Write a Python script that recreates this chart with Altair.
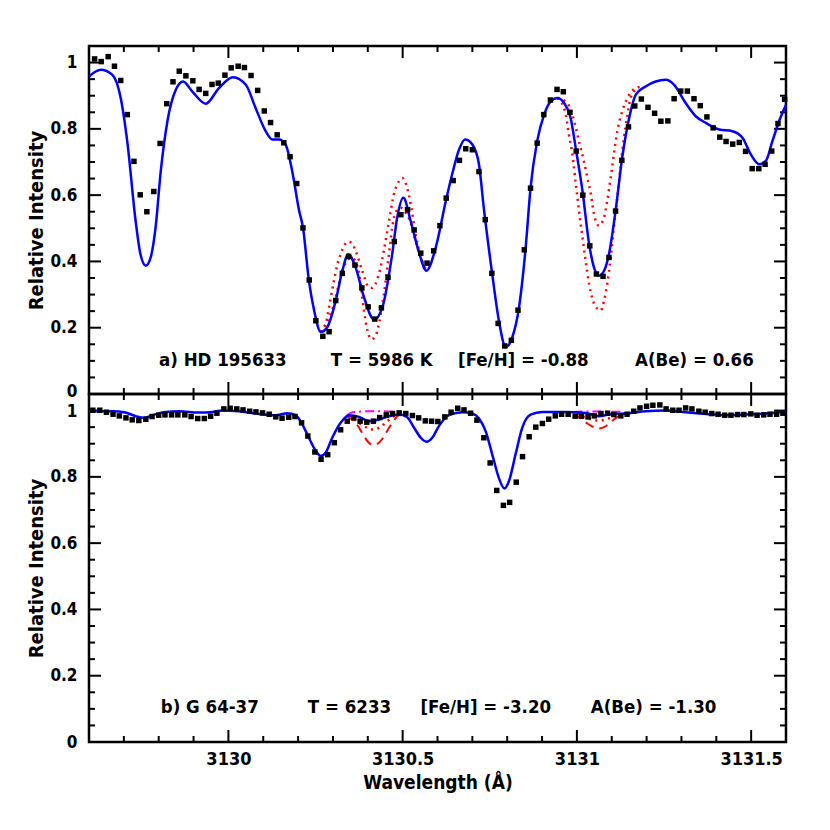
import altair as alt
import pandas as pd

# ---------------- data ----------------
# panel a) observed points
a_obs_x = [3129.616, 3129.635, 3129.655, 3129.673, 3129.691, 3129.710, 3129.729, 3129.747, 3129.766, 3129.786,
           3129.804, 3129.823, 3129.841, 3129.859, 3129.878, 3129.898, 3129.916, 3129.935, 3129.953, 3129.971,
           3129.990, 3130.008, 3130.028, 3130.046, 3130.065, 3130.084, 3130.103, 3130.121, 3130.140, 3130.159,
           3130.177, 3130.196, 3130.214, 3130.232, 3130.251, 3130.271, 3130.289, 3130.308, 3130.327, 3130.345,
           3130.363, 3130.383, 3130.401, 3130.420, 3130.439, 3130.458, 3130.476, 3130.495, 3130.514, 3130.533,
           3130.552, 3130.570, 3130.589, 3130.607, 3130.625, 3130.645, 3130.663, 3130.681, 3130.700, 3130.719,
           3130.737, 3130.756, 3130.774, 3130.793, 3130.812, 3130.831, 3130.849, 3130.867, 3130.886, 3130.905,
           3130.924, 3130.943, 3130.961, 3130.980, 3130.998, 3131.017, 3131.037, 3131.056, 3131.075, 3131.092,
           3131.111, 3131.129, 3131.148, 3131.166, 3131.185, 3131.204, 3131.223, 3131.241, 3131.261, 3131.279,
           3131.298, 3131.317, 3131.336, 3131.354, 3131.373, 3131.391, 3131.410, 3131.428, 3131.447, 3131.466,
           3131.484, 3131.503, 3131.522, 3131.540, 3131.559, 3131.577, 3131.596]
a_obs_y = [1.011, 1.003, 1.018, 0.989, 0.946, 0.843, 0.702, 0.601, 0.550, 0.611,
           0.756, 0.876, 0.942, 0.974, 0.960, 0.945, 0.919, 0.907, 0.934, 0.938,
           0.962, 0.984, 0.989, 0.985, 0.961, 0.916, 0.854, 0.819, 0.782, 0.758,
           0.716, 0.635, 0.501, 0.344, 0.221, 0.174, 0.188, 0.282, 0.364, 0.415,
           0.389, 0.320, 0.263, 0.226, 0.260, 0.352, 0.460, 0.541, 0.556, 0.495,
           0.425, 0.395, 0.432, 0.508, 0.591, 0.644, 0.705, 0.740, 0.737, 0.671,
           0.526, 0.364, 0.213, 0.145, 0.162, 0.253, 0.435, 0.621, 0.757, 0.843,
           0.887, 0.919, 0.912, 0.850, 0.733, 0.600, 0.447, 0.362, 0.355, 0.412,
           0.552, 0.705, 0.806, 0.869, 0.890, 0.865, 0.847, 0.823, 0.824, 0.891,
           0.914, 0.914, 0.891, 0.870, 0.836, 0.803, 0.775, 0.762, 0.754, 0.759,
           0.732, 0.680, 0.680, 0.693, 0.733, 0.816, 0.889]

# panel a) best-fit synthesis (blue)
a_fit_x = [3129.600, 3129.634, 3129.667, 3129.691, 3129.710, 3129.734, 3129.748, 3129.763, 3129.777, 3129.791,
           3129.806, 3129.825, 3129.849, 3129.870, 3129.896, 3129.935, 3129.973, 3130.013, 3130.050, 3130.078,
           3130.107, 3130.126, 3130.145, 3130.164, 3130.183, 3130.203, 3130.214, 3130.231, 3130.246, 3130.265,
           3130.284, 3130.308, 3130.327, 3130.344, 3130.365, 3130.389, 3130.418, 3130.442, 3130.470, 3130.484,
           3130.502, 3130.523, 3130.547, 3130.568, 3130.595, 3130.624, 3130.642, 3130.662, 3130.679, 3130.700,
           3130.719, 3130.733, 3130.757, 3130.776, 3130.796, 3130.815, 3130.834, 3130.853, 3130.867, 3130.886,
           3130.906, 3130.925, 3130.944, 3130.963, 3130.982, 3130.998, 3131.016, 3131.035, 3131.049, 3131.063,
           3131.078, 3131.092, 3131.111, 3131.130, 3131.150, 3131.169, 3131.197, 3131.226, 3131.255, 3131.279,
           3131.312, 3131.341, 3131.370, 3131.408, 3131.446, 3131.475, 3131.499, 3131.523, 3131.542, 3131.561,
           3131.580, 3131.600]
a_fit_y = [0.958, 0.978, 0.963, 0.893, 0.760, 0.520, 0.420, 0.387, 0.412, 0.502,
           0.673, 0.823, 0.918, 0.943, 0.913, 0.876, 0.923, 0.956, 0.933, 0.863,
           0.793, 0.768, 0.768, 0.753, 0.673, 0.553, 0.502, 0.342, 0.252, 0.187,
           0.202, 0.282, 0.372, 0.422, 0.382, 0.292, 0.224, 0.262, 0.422, 0.530,
           0.592, 0.522, 0.427, 0.372, 0.442, 0.583, 0.663, 0.738, 0.768, 0.753,
           0.693, 0.560, 0.362, 0.222, 0.142, 0.172, 0.262, 0.442, 0.622, 0.763,
           0.843, 0.883, 0.893, 0.878, 0.833, 0.733, 0.613, 0.453, 0.382, 0.357,
           0.372, 0.422, 0.553, 0.713, 0.833, 0.903, 0.928, 0.943, 0.948, 0.933,
           0.878, 0.838, 0.818, 0.798, 0.793, 0.773, 0.723, 0.693, 0.703, 0.763,
           0.823, 0.873]

# panel a) synthesis with less Be (red dotted, upper); None separates the two line pieces
a_lo_x = [3130.265, 3130.280, 3130.292, 3130.303, 3130.313, 3130.322, 3130.332, 3130.344, 3130.356, 3130.365,
          3130.384, 3130.403, 3130.411, 3130.432, 3130.446, 3130.461, 3130.475, 3130.490, 3130.499, 3130.510,
          3130.523, 3130.537, 3130.552, 3130.568, None,
          3130.944, 3130.972, 3130.987, 3130.997, 3131.008, 3131.020, 3131.030, 3131.040, 3131.049, 3131.063,
          3131.078, 3131.087, 3131.097, 3131.106, 3131.116, 3131.130, 3131.145, 3131.164, 3131.188]
a_lo_y = [0.187, 0.215, 0.280, 0.342, 0.392, 0.422, 0.447, 0.460, 0.452, 0.432,
          0.372, 0.322, 0.320, 0.362, 0.432, 0.523, 0.603, 0.643, 0.652, 0.633,
          0.573, 0.482, 0.412, 0.372, None,
          0.893, 0.878, 0.843, 0.803, 0.753, 0.703, 0.653, 0.603, 0.543, 0.508,
          0.533, 0.583, 0.653, 0.723, 0.793, 0.853, 0.893, 0.920, 0.928]

# panel a) synthesis with more Be (red dotted, lower)
a_hi_x = [3130.265, 3130.300, 3130.327, 3130.342, 3130.355, 3130.365, 3130.375, 3130.383, 3130.389, 3130.399,
          3130.410, 3130.423, 3130.432, 3130.442, 3130.449, 3130.456, 3130.463, 3130.470, 3130.478, 3130.494,
          3130.509, 3130.523, 3130.537, 3130.552, 3130.568, None,
          3130.944, 3130.966, 3130.977, 3130.987, 3130.997, 3131.006, 3131.016, 3131.025, 3131.035, 3131.046,
          3131.059, 3131.068, 3131.078, 3131.087, 3131.097, 3131.106, 3131.116, 3131.125, 3131.135, 3131.145,
          3131.154, 3131.169]
a_hi_y = [0.187, 0.260, 0.370, 0.405, 0.410, 0.400, 0.362, 0.302, 0.252, 0.192,
          0.165, 0.177, 0.212, 0.272, 0.322, 0.382, 0.442, 0.502, 0.543, 0.562,
          0.547, 0.517, 0.462, 0.412, 0.372, None,
          0.893, 0.853, 0.783, 0.723, 0.633, 0.553, 0.473, 0.402, 0.332, 0.282,
          0.257, 0.252, 0.282, 0.332, 0.412, 0.502, 0.593, 0.683, 0.773, 0.843,
          0.893, 0.918]

# panel b) observed points
b_obs_x = [3129.611, 3129.631, 3129.650, 3129.669, 3129.687, 3129.706, 3129.724, 3129.743, 3129.763, 3129.781,
           3129.800, 3129.818, 3129.837, 3129.855, 3129.875, 3129.893, 3129.912, 3129.931, 3129.949, 3129.967,
           3129.987, 3130.005, 3130.024, 3130.042, 3130.061, 3130.079, 3130.098, 3130.117, 3130.136, 3130.154,
           3130.173, 3130.191, 3130.210, 3130.228, 3130.248, 3130.266, 3130.285, 3130.304, 3130.322, 3130.341,
           3130.360, 3130.378, 3130.397, 3130.416, 3130.434, 3130.453, 3130.471, 3130.490, 3130.509, 3130.528,
           3130.546, 3130.565, 3130.583, 3130.601, 3130.621, 3130.639, 3130.658, 3130.676, 3130.695, 3130.713,
           3130.733, 3130.751, 3130.770, 3130.789, 3130.807, 3130.826, 3130.844, 3130.863, 3130.882, 3130.901,
           3130.919, 3130.938, 3130.956, 3130.975, 3130.995, 3131.013, 3131.032, 3131.050, 3131.069, 3131.088,
           3131.106, 3131.126, 3131.144, 3131.163, 3131.181, 3131.200, 3131.218, 3131.238, 3131.256, 3131.275,
           3131.293, 3131.312, 3131.330, 3131.350, 3131.368, 3131.387, 3131.405, 3131.424, 3131.442, 3131.461,
           3131.479, 3131.499, 3131.517, 3131.536, 3131.554, 3131.573, 3131.591]
b_obs_y = [1.001, 1.001, 0.995, 0.989, 0.984, 0.978, 0.972, 0.970, 0.974, 0.982,
           0.986, 0.987, 0.987, 0.987, 0.987, 0.982, 0.976, 0.976, 0.983, 0.992,
           1.005, 1.007, 1.005, 1.002, 0.998, 0.996, 0.993, 0.989, 0.981, 0.977,
           0.980, 0.982, 0.963, 0.923, 0.875, 0.853, 0.867, 0.903, 0.942, 0.968,
           0.978, 0.968, 0.965, 0.968, 0.979, 0.987, 0.991, 0.993, 0.991, 0.985,
           0.978, 0.969, 0.968, 0.967, 0.981, 0.995, 1.007, 1.002, 0.992, 0.971,
           0.918, 0.842, 0.759, 0.714, 0.723, 0.784, 0.861, 0.921, 0.950, 0.961,
           0.974, 0.984, 0.989, 0.989, 0.983, 0.983, 0.981, 0.984, 0.991, 0.992,
           0.988, 0.984, 0.989, 0.998, 1.008, 1.013, 1.016, 1.017, 1.005, 1.001,
           1.001, 1.008, 1.005, 0.998, 0.995, 0.991, 0.989, 0.986, 0.986, 0.988,
           0.988, 0.990, 0.986, 0.987, 0.989, 0.989, 0.992]

# panel b) best-fit synthesis (blue)
b_fit_x = [3129.600, 3129.667, 3129.705, 3129.734, 3129.758, 3129.782, 3129.820, 3129.858, 3129.916, 3129.954,
           3129.982, 3130.030, 3130.088, 3130.136, 3130.169, 3130.193, 3130.212, 3130.231, 3130.251, 3130.265,
           3130.279, 3130.298, 3130.322, 3130.346, 3130.375, 3130.403, 3130.432, 3130.461, 3130.490, 3130.513,
           3130.533, 3130.552, 3130.568, 3130.585, 3130.604, 3130.633, 3130.671, 3130.700, 3130.719, 3130.738,
           3130.757, 3130.776, 3130.792, 3130.805, 3130.824, 3130.843, 3130.867, 3130.901, 3130.968, 3131.025,
           3131.063, 3131.092, 3131.150, 3131.197, 3131.255, 3131.312, 3131.370, 3131.427, 3131.484, 3131.542,
           3131.600]
b_fit_y = [0.998, 0.998, 0.994, 0.983, 0.978, 0.986, 0.996, 0.998, 0.994, 0.996,
           1.000, 0.998, 0.990, 0.986, 0.992, 0.986, 0.958, 0.918, 0.878, 0.863,
           0.873, 0.918, 0.963, 0.986, 0.981, 0.968, 0.973, 0.983, 0.988, 0.980,
           0.948, 0.918, 0.906, 0.918, 0.953, 0.986, 0.995, 0.991, 0.976, 0.938,
           0.868, 0.797, 0.765, 0.787, 0.868, 0.948, 0.988, 0.996, 0.996, 0.993,
           0.983, 0.988, 0.992, 0.998, 1.000, 0.995, 0.990, 0.986, 0.988, 0.991,
           0.998]

# panel b) higher-Be syntheses (red dashed, red dotted) and no-Be synthesis (magenta)
b_dash_x = [3130.337, 3130.360, 3130.375, 3130.389, 3130.403, 3130.418, 3130.432, 3130.447, 3130.461, 3130.475,
            3130.490, 3130.509, None,
            3130.990, 3131.015, 3131.030, 3131.044, 3131.063, 3131.078, 3131.092, 3131.106, 3131.121, 3131.140]
b_dash_y = [0.985, 0.968, 0.948, 0.923, 0.903, 0.896, 0.903, 0.923, 0.948, 0.970,
            0.986, 0.984, None,
            0.990, 0.973, 0.961, 0.952, 0.946, 0.950, 0.960, 0.973, 0.983, 0.990]
b_dot_x = [3130.346, 3130.375, 3130.394, 3130.413, 3130.432, 3130.451, 3130.470, 3130.490, None,
           3131.000, 3131.044, 3131.063, 3131.082, 3131.101, 3131.130]
b_dot_y = [0.985, 0.963, 0.950, 0.943, 0.948, 0.963, 0.980, 0.988, None,
           0.990, 0.973, 0.970, 0.973, 0.980, 0.990]
b_nobe_x = [3130.340, 3130.356, 3130.413, 3130.490, 3130.509, None,
            3130.990, 3131.030, 3131.080, 3131.130]
b_nobe_y = [0.986, 0.995, 0.998, 0.996, 0.992, None,
            0.996, 0.997, 0.997, 0.996]

# annotations (text and where they sit, in data units)
a_labels = ["a) HD 195633", "T = 5986 K", "[Fe/H] = -0.88", "A(Be) = 0.66"]
a_label_x = [3129.801, 3130.294, 3130.659, 3131.167]
b_labels = ["b) G 64-37", "T = 6233", "[Fe/H] = -3.20", "A(Be) = -1.30"]
b_label_x = [3129.806, 3130.228, 3130.551, 3131.040]

# axes ticks
x_major = [3130.0, 3130.5, 3131.0, 3131.5]
x_minor = [3129.7, 3129.8, 3129.9, 3130.1, 3130.2, 3130.3, 3130.4, 3130.6, 3130.7,
           3130.8, 3130.9, 3131.1, 3131.2, 3131.3, 3131.4]
y_major = [0.0, 0.2, 0.4, 0.6, 0.8, 1.0]
y_minor = [0.05, 0.1, 0.15, 0.25, 0.3, 0.35, 0.45, 0.5, 0.55, 0.65, 0.7, 0.75,
           0.85, 0.9, 0.95]

# ---------------- chart ----------------
W, H = 697, 348
FONT = "DejaVu Sans Condensed, Liberation Sans Narrow, DejaVu Sans, sans-serif"
xscale = alt.Scale(domain=[3129.6, 3131.6], nice=False, zero=False)
yscale = alt.Scale(domain=[0, 1.05], nice=False, zero=False)


def make_yaxis(shift_value, shift):
    return alt.Axis(values=y_major, format=".1~f", ticks=False, domain=False, grid=False,
                    labelPadding=12, labelOverlap=False, labelFontSize=17, labelFont=FONT,
                    labelFontWeight="bold", labelColor="black",
                    labelOffset={"condition": {"test": f"datum.value == {shift_value}", "value": shift},
                                 "value": 0},
                    title="Relative Intensity", titleFontSize=20, titleFont=FONT,
                    titleFontWeight="bold", titleColor="black", titlePadding=3)


xaxis = alt.Axis(values=x_major, format=".1~f", ticks=False, domain=False, grid=False,
                 labelPadding=8, labelOverlap=False, labelFontSize=18, labelFont=FONT,
                 labelFontWeight="bold", labelColor="black",
                 title="Wavelength (Å)", titleFontSize=19, titleFont=FONT,
                 titleFontWeight="bold", titleColor="black", titlePadding=5)


def seg_df(xs, ys):
    rows, seg = [], 0
    for xv, yv in zip(xs, ys):
        if xv is None:
            seg += 1
            continue
        rows.append({"x": xv, "y": yv, "seg": seg})
    return pd.DataFrame(rows)


def panel(obs_x, obs_y, fit_x, fit_y, extra, labels, label_x, label_y, show_x, yaxis):
    xa = xaxis if show_x else None

    def X():
        return alt.X("x:Q", scale=xscale, axis=xa)

    def Y():
        return alt.Y("y:Q", scale=yscale, axis=yaxis)

    layers = []
    # inward ticks on all four sides
    for vals, ln in ((x_major, 12), (x_minor, 6)):
        base = alt.Chart(pd.DataFrame({"x": vals})).mark_rule(color="black", strokeWidth=2)
        layers.append(base.encode(x=X(), y=alt.value(H), y2=alt.value(H - ln)))
        layers.append(base.encode(x=X(), y=alt.value(0), y2=alt.value(ln)))
    for vals, ln in ((y_major, 12), (y_minor, 6)):
        base = alt.Chart(pd.DataFrame({"y": vals})).mark_rule(color="black", strokeWidth=2)
        layers.append(base.encode(y=Y(), x=alt.value(0), x2=alt.value(ln)))
        layers.append(base.encode(y=Y(), x=alt.value(W), x2=alt.value(W - ln)))
    # comparison syntheses
    for xs, ys, color, dash, width in extra:
        layers.append(alt.Chart(seg_df(xs, ys)).mark_line(
            color=color, strokeWidth=width, strokeDash=dash, interpolate="monotone").encode(
            x=X(), y=Y(), detail="seg:N"))
    # best fit
    layers.append(alt.Chart(pd.DataFrame({"x": fit_x, "y": fit_y})).mark_line(
        color="#0000ff", strokeWidth=2.5, interpolate="monotone").encode(x=X(), y=Y()))
    # observations
    layers.append(alt.Chart(pd.DataFrame({"x": obs_x, "y": obs_y})).mark_square(
        size=30, color="black", opacity=1).encode(x=X(), y=Y()))
    # annotation
    layers.append(alt.Chart(pd.DataFrame({"x": label_x, "y": [label_y] * len(labels), "t": labels}))
                  .mark_text(align="left", baseline="middle", fontSize=18.5, fontWeight="bold",
                             font=FONT, color="black")
                  .encode(x=X(), y=Y(), text="t:N"))
    return alt.layer(*layers).properties(width=W, height=H)


DOT = [2, 4.5]
top = panel(a_obs_x, a_obs_y, a_fit_x, a_fit_y,
            [(a_lo_x, a_lo_y, "#ff0000", DOT, 2.5), (a_hi_x, a_hi_y, "#ff0000", DOT, 2.5)],
            a_labels, a_label_x, 0.103, False, make_yaxis(0, -3))
bottom = panel(b_obs_x, b_obs_y, b_fit_x, b_fit_y,
               [(b_nobe_x, b_nobe_y, "#ff00ff", [9, 4, 2, 4], 2),
                (b_dash_x, b_dash_y, "#ff0000", [9, 6], 2),
                (b_dot_x, b_dot_y, "#ff0000", DOT, 2.5)],
               b_labels, b_label_x, 0.106, True, make_yaxis(1, 1))

chart = alt.vconcat(top, bottom, spacing=0, bounds="flush").properties(
    padding={"left": 17, "top": 35, "right": 10, "bottom": 10},
    background="white",
).configure_view(stroke="black", strokeWidth=2.5)

chart.save("out.html", embed_options={"renderer": "svg", "actions": False})
